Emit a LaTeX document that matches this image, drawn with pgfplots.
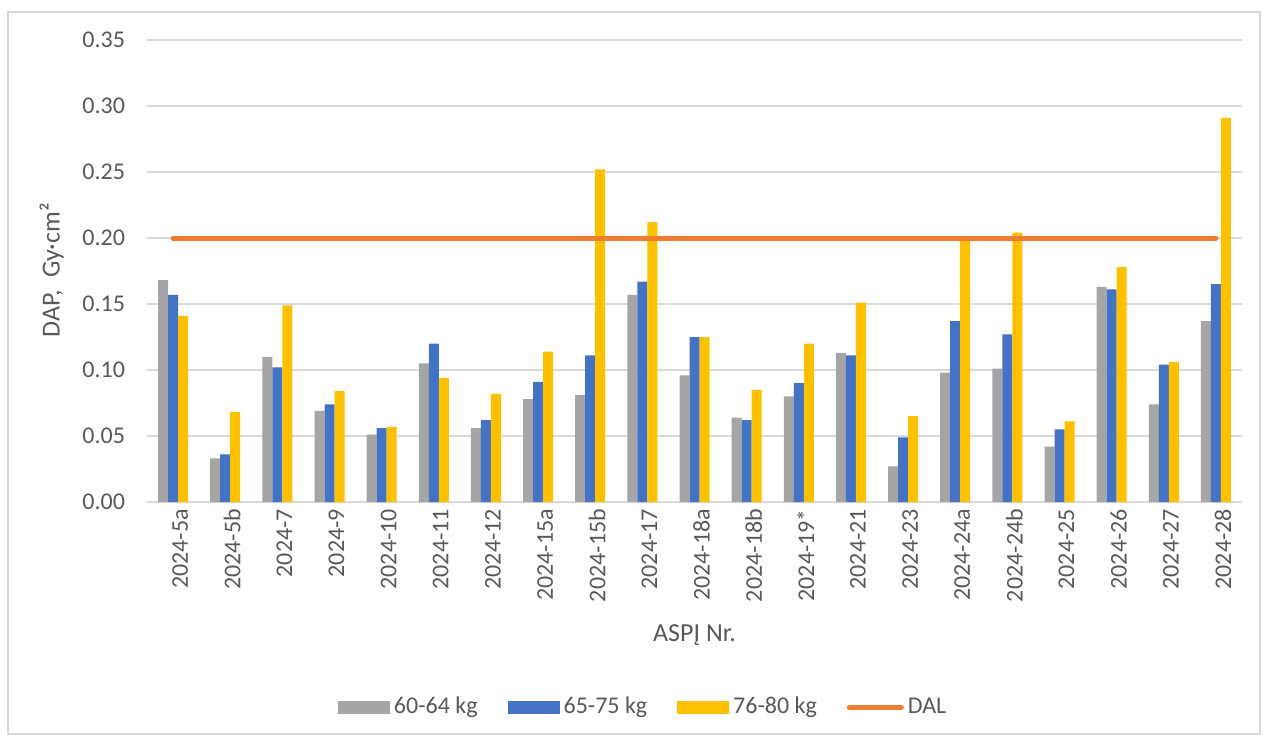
\documentclass[border=0pt]{standalone}
\usepackage{fontspec}
\setmainfont{Carlito}
\usepackage{pgfplots}
\pgfplotsset{compat=1.18}
\usepackage{pgfplotstable}

\definecolor{cgray}{HTML}{A5A5A5}
\definecolor{cblue}{HTML}{4472C4}
\definecolor{cyellow}{HTML}{FFC000}
\definecolor{corange}{HTML}{ED7D31}
\definecolor{cgrid}{HTML}{D9D9D9}
\definecolor{ctext}{HTML}{595959}

% DAP values, Gy*cm^2, per weight group
\pgfplotstableread{
x  g      b      y
0  0.168  0.157  0.141
1  0.033  0.036  0.068
2  0.110  0.102  0.149
3  0.069  0.074  0.084
4  0.051  0.056  0.057
5  0.105  0.120  0.094
6  0.056  0.062  0.082
7  0.078  0.091  0.114
8  0.081  0.111  0.252
9  0.157  0.167  0.212
10 0.096  0.125  0.125
11 0.064  0.062  0.085
12 0.080  0.090  0.120
13 0.113  0.111  0.151
14 0.027  0.049  0.065
15 0.098  0.137  0.199
16 0.101  0.127  0.204
17 0.042  0.055  0.061
18 0.163  0.161  0.178
19 0.074  0.104  0.106
20 0.137  0.165  0.291
}\dap

\begin{document}
\begin{tikzpicture}
\useasboundingbox (-73.5pt,-118pt) rectangle (560.5pt,251pt);
\draw[cgrid, line width=0.6pt] (-69.5pt,-116pt) rectangle (556.5pt,245pt);
\begin{axis}[
    at={(0pt,0pt)}, anchor=south west,
    scale only axis,
    width=547.5pt, height=231pt,
    xmin=-0.5, xmax=20.5,
    ymin=0, ymax=0.35,
    ytick={0,0.05,...,0.35},
    xtick={0,...,20},
    xticklabels={2024-5a,2024-5b,2024-7,2024-9,2024-10,2024-11,2024-12,2024-15a,2024-15b,2024-17,2024-18a,2024-18b,2024-19*,2024-21,2024-23,2024-24a,2024-24b,2024-25,2024-26,2024-27,2024-28},
    axis line style={draw=none},
    major tick length=0pt,
    ymajorgrids,
    major grid style={cgrid, line width=1pt},
    /pgf/number format/fixed,
    /pgf/number format/fixed zerofill,
    /pgf/number format/precision=2,
    /pgf/number format/assume math mode=true,
    tick label style={font=\fontsize{12}{14}\selectfont, text=ctext},
    yticklabel style={xshift=-7.5pt},
    xticklabel style={rotate=90, anchor=east, yshift=-3.5pt},
    xlabel={ASPĮ Nr.},
    ylabel={DAP,\ \ Gy·cm²},
    label style={font=\fontsize{13}{15}\selectfont, text=ctext},
    xlabel style={at={(axis description cs:0.5,-0.288)}, anchor=center},
    ylabel style={at={(axis description cs:-0.087,0.502)}, anchor=center},
    legend columns=4,
    legend style={draw=none, at={(axis description cs:0.454,-0.444)}, anchor=center,
        font=\fontsize{12}{14}\selectfont, text=ctext,
        /tikz/every even column/.append style={column sep=13pt},
        /tikz/every odd column/.append style={column sep=0pt}},
    legend cell align=left,
]
\addplot[ybar, bar width=5pt, bar shift=-5pt, fill=cgray, draw=none,
    legend image code/.code={\fill[cgray] (0pt,-3.25pt) rectangle (26pt,3.25pt);}]
    table[x=x, y=g] {\dap};
\addplot[ybar, bar width=5pt, bar shift=0pt, fill=cblue, draw=none,
    legend image code/.code={\fill[cblue] (0pt,-3.25pt) rectangle (26pt,3.25pt);}]
    table[x=x, y=b] {\dap};
\addplot[ybar, bar width=5pt, bar shift=5pt, fill=cyellow, draw=none,
    legend image code/.code={\fill[cyellow] (0pt,-3.25pt) rectangle (26pt,3.25pt);}]
    table[x=x, y=y] {\dap};
\addplot[sharp plot, corange, line width=2.5pt, line cap=round, mark=none,
    legend image code/.code={\draw[corange, line width=2.5pt, line cap=round] (1pt,0pt) -- (27pt,0pt);}]
    coordinates {(0,0.2) (20,0.2)};
\legend{60-64 kg, 65-75 kg, 76-80 kg, DAL}
\end{axis}
\end{tikzpicture}
\end{document}
